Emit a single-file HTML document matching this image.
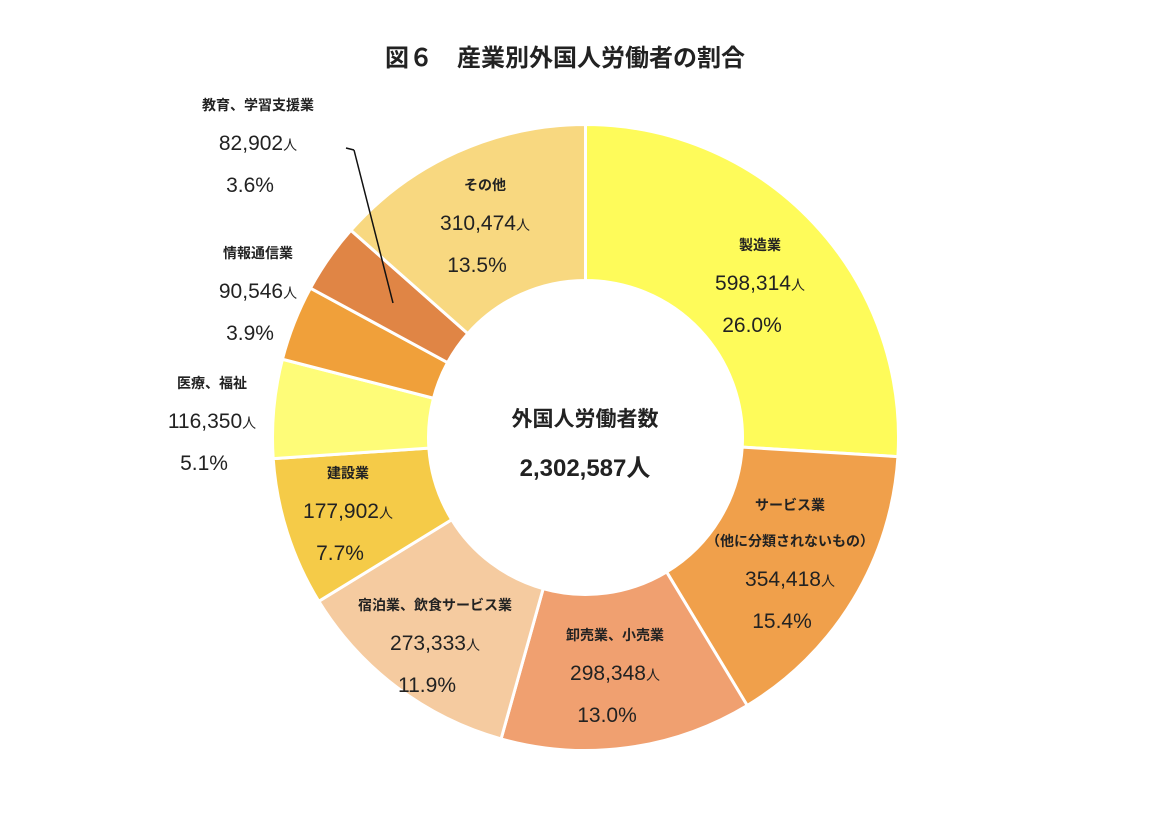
<!DOCTYPE html>
<html><head><meta charset="utf-8"><style>
body{margin:0;background:#fff;width:1165px;height:830px;overflow:hidden;font-family:"Liberation Sans","Noto Sans CJK JP",sans-serif}
svg text{font-family:"Liberation Sans","Noto Sans CJK JP",sans-serif;fill:#222}
</style></head><body>
<svg width="1165" height="830">
<text x="565" y="66" text-anchor="middle" font-size="24" font-weight="bold">図６　産業別外国人労働者の割合</text>
<g id="slices"></g>
<g id="labels"></g>
<line x1="346" y1="148" x2="354" y2="150" stroke="#111" stroke-width="1.5"/>
<line x1="354" y1="150" x2="393" y2="303" stroke="#111" stroke-width="1.5"/>
<text x="585" y="426" text-anchor="middle" font-size="21" font-weight="bold">外国人労働者数</text>
<text x="585" y="476" text-anchor="middle" font-size="24" font-weight="bold">2,302,587人</text>
</svg>
<script>
const categories=["製造業","サービス業","卸売業、小売業","宿泊業、飲食サービス業","建設業","医療、福祉","情報通信業","教育、学習支援業","その他"];
const counts=["598,314","354,418","298,348","273,333","177,902","116,350","90,546","82,902","310,474"];
const percents=[26.0,15.4,13.0,11.9,7.7,5.1,3.9,3.6,13.5];
const colors=["#fefb5a","#f0a04b","#f0a070","#f5cba0","#f5cb48","#fefc78","#f0a03a","#e08545","#f8d880"];
const slugs=["manufacturing","services","wholesale-retail","hospitality","construction","medical","it","education","other"];
const labelPos=[[760,250],[790,510,1],[615,640],[435,610],[348,478],[212,388],[258,258],[258,110],[485,190]];
const cx=585.5,cy=437.5,R=313,r=157;
const ns="http://www.w3.org/2000/svg";
const total=percents.reduce((a,b)=>a+b,0);
function pt(a,rad){return [cx+rad*Math.sin(a),cy-rad*Math.cos(a)];}
const gs=document.getElementById('slices'),gl=document.getElementById('labels');
let acc=0;
percents.forEach((p,i)=>{
 const a0=acc/total*2*Math.PI;acc+=p;const a1=acc/total*2*Math.PI;
 const large=(a1-a0)>Math.PI?1:0;
 const [x0,y0]=pt(a0,R),[x1,y1]=pt(a1,R),[x2,y2]=pt(a1,r),[x3,y3]=pt(a0,r);
 const path=document.createElementNS(ns,'path');
 path.setAttribute('d',`M${x0},${y0}A${R},${R} 0 ${large} 1 ${x1},${y1}L${x2},${y2}A${r},${r} 0 ${large} 0 ${x3},${y3}Z`);
 path.setAttribute('fill',colors[i]);path.setAttribute('stroke','#fff');path.setAttribute('stroke-width','3');
 
 
 gs.appendChild(path);
 const [lx,ly,two]=labelPos[i];
 const g=document.createElementNS(ns,'g');
 
 
 let y=ly;
 const t1=document.createElementNS(ns,'text');
 t1.setAttribute('x',lx);t1.setAttribute('y',y);t1.setAttribute('text-anchor','middle');
 t1.setAttribute('font-size','14');t1.setAttribute('font-weight','bold');
 if(two){t1.textContent='サービス業';g.appendChild(t1);y+=36;
  const t1b=document.createElementNS(ns,'text');t1b.setAttribute('x',lx);t1b.setAttribute('y',y);t1b.setAttribute('text-anchor','middle');t1b.setAttribute('font-size','14');t1b.setAttribute('font-weight','bold');t1b.textContent='（他に分類されないもの）';g.appendChild(t1b);}
 else{t1.textContent=categories[i];g.appendChild(t1);}
 y+=40;
 const t2=document.createElementNS(ns,'text');
 t2.setAttribute('x',lx);t2.setAttribute('y',y);t2.setAttribute('text-anchor','middle');t2.setAttribute('font-size','21');
 t2.innerHTML=counts[i]+'<tspan font-size="14">人</tspan>';g.appendChild(t2);
 y+=42;
 const t3=document.createElementNS(ns,'text');
 t3.setAttribute('x',lx-8);t3.setAttribute('y',y);t3.setAttribute('text-anchor','middle');t3.setAttribute('font-size','21');
 t3.textContent=p.toFixed(1)+'%';g.appendChild(t3);
 gl.appendChild(g);
});
</script>
</body></html>
